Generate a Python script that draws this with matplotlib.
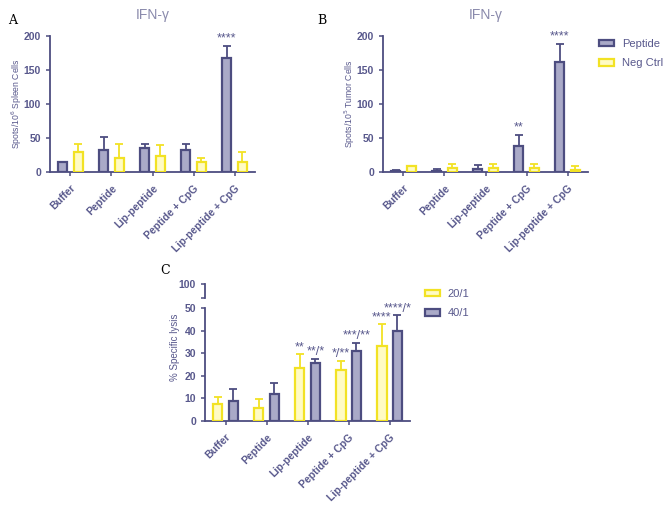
import numpy as np
import matplotlib
matplotlib.use("Agg")
import matplotlib.pyplot as plt
from matplotlib.patches import Patch

plt.rcParams['font.family'] = ['Liberation Sans', 'DejaVu Sans']

# data
groups = ["Buffer", "Peptide", "Lip-peptide", "Peptide + CpG", "Lip-peptide + CpG"]

a_pep = [15, 32, 35, 32, 167]
a_pep_err = [0, 20, 6, 9, 19]
a_neg = [30, 20, 23, 14, 14]
a_neg_err = [11, 21, 16, 6, 15]
a_stars = ["", "", "", "", "****"]

b_pep = [1, 2, 5, 38, 162]
b_pep_err = [2, 2, 5, 17, 26]
b_neg = [9, 6, 6, 6, 3]
b_neg_err = [0, 6, 6, 6, 6]
b_stars = ["", "", "", "**", "****"]

c_20 = [7.7, 5.9, 23.6, 22.7, 33.3]
c_20_err = [2.9, 3.8, 5.9, 4.0, 9.5]
c_40 = [8.8, 11.8, 25.5, 30.8, 40.0]
c_40_err = [5.4, 5.0, 2.1, 3.9, 6.9]
c_20_stars = ["", "", "**", "*/**", "****"]
c_40_stars = ["", "", "**/*", "***/**", "****/*"]

# colours
PUR_FILL = "#aaaac8"
PUR_EDGE = "#4d4d80"
YEL_FILL = "#fffbc4"
YEL_EDGE = "#f2e224"
TXT = "#58588c"
TITLE = "#8a8aac"

fig = plt.figure(figsize=(6.66, 5.05), dpi=100)
x = np.arange(len(groups))
w = 0.23
off = 0.19


def style_ax(ax):
    for s in ["top", "right"]:
        ax.spines[s].set_visible(False)
    for s in ["left", "bottom"]:
        ax.spines[s].set_color(PUR_EDGE)
        ax.spines[s].set_linewidth(1.3)
    ax.tick_params(colors=PUR_EDGE, labelcolor=TXT, width=1.1, length=3, labelsize=7.5)
    for lab in ax.get_yticklabels():
        lab.set_fontweight("bold")


def bars(ax, xs, vals, errs, fill, edge):
    ax.bar(xs, vals, width=w, color=fill, edgecolor=edge, linewidth=1.6, zorder=3)
    ax.errorbar(xs, vals, yerr=[np.zeros(len(vals)), errs], fmt="none",
                ecolor=edge, elinewidth=1.3, capsize=3, capthick=1.3, zorder=2)


def xlabels(ax):
    ax.set_xticks(x)
    ax.set_xticklabels(groups, rotation=45, ha="right", rotation_mode="anchor",
                       fontsize=7.5, fontweight="bold", color=TXT)
    ax.tick_params(axis="x", pad=5)
    ax.set_xlim(-0.5, 4.5)


def legend(ax, handles, labels, anchor):
    ax.legend(handles=handles, labels=labels, loc="upper left",
              bbox_to_anchor=anchor, bbox_transform=fig.transFigure,
              frameon=False, fontsize=8, labelcolor=TXT, handlelength=1.35,
              handleheight=0.55, handletextpad=0.7, labelspacing=0.85,
              borderaxespad=0, borderpad=0)


def ifn_panel(rect, pep, pep_err, neg, neg_err, stars, ylabel):
    ax = fig.add_axes(rect)
    bars(ax, x - off, pep, pep_err, PUR_FILL, PUR_EDGE)
    bars(ax, x + off, neg, neg_err, YEL_FILL, YEL_EDGE)
    for i in range(len(groups)):
        if stars[i]:
            ax.text(x[i] - off, pep[i] + pep_err[i] + 2, stars[i], ha="center",
                    va="bottom", fontsize=9, color=TXT)
    ax.set_ylim(0, 200)
    ax.set_yticks([0, 50, 100, 150, 200])
    xlabels(ax)
    style_ax(ax)
    ax.set_ylabel(ylabel, fontsize=6.2, color=TXT)
    ax.yaxis.set_label_coords(-0.125, 0.5)
    ax.set_title("IFN-γ", fontsize=10, color=TITLE, pad=12)
    return ax


axA = ifn_panel([0.075, 0.6594, 0.308, 0.2693], a_pep, a_pep_err, a_neg, a_neg_err,
                a_stars, "Spots/10$^6$ Spleen Cells")
axB = ifn_panel([0.575, 0.6594, 0.308, 0.2693], b_pep, b_pep_err, b_neg, b_neg_err,
                b_stars, "Spots/10$^5$ Tumor Cells")
legend(axB, [Patch(facecolor=PUR_FILL, edgecolor=PUR_EDGE, linewidth=1.6),
             Patch(facecolor=YEL_FILL, edgecolor=YEL_EDGE, linewidth=1.6)],
       ["Peptide", "Neg Ctrl"], (0.9, 0.923))

# panel C with broken axis
axC = fig.add_axes([0.3078, 0.1663, 0.308, 0.2238])
bars(axC, x - off, c_20, c_20_err, YEL_FILL, YEL_EDGE)
bars(axC, x + off, c_40, c_40_err, PUR_FILL, PUR_EDGE)
for i in range(len(groups)):
    if c_20_stars[i]:
        axC.text(x[i] - off, c_20[i] + c_20_err[i] + 0.2, c_20_stars[i], ha="center",
                 va="bottom", fontsize=9, color=TXT)
    if c_40_stars[i]:
        axC.text(x[i] + off, c_40[i] + c_40_err[i] + 0.2, c_40_stars[i], ha="center",
                 va="bottom", fontsize=9, color=TXT)
axC.set_ylim(0, 50)
axC.set_yticks([0, 10, 20, 30, 40, 50])
xlabels(axC)
style_ax(axC)
axC.set_ylabel("% Specific lysis", fontsize=7, color=TXT)
axC.yaxis.set_label_coords(-0.12, 0.65)

axC2 = fig.add_axes([0.3078, 0.4099, 0.308, 0.0277])
axC2.set_ylim(90, 100)
axC2.set_yticks([90, 100])
axC2.set_yticklabels(["", "100"])
axC2.set_xlim(-0.5, 4.5)
axC2.set_xticks([])
style_ax(axC2)
axC2.spines["bottom"].set_visible(False)
axC2.patch.set_alpha(0)

legend(axC, [Patch(facecolor=YEL_FILL, edgecolor=YEL_EDGE, linewidth=1.6),
             Patch(facecolor=PUR_FILL, edgecolor=PUR_EDGE, linewidth=1.6)],
       ["20/1", "40/1"], (0.638, 0.428))

# panel letters
fig.text(0.012, 0.972, "A", fontsize=9, family="serif", va="top")
fig.text(0.477, 0.972, "B", fontsize=9, family="serif", va="top")
fig.text(0.24, 0.478, "C", fontsize=9, family="serif", va="top")

fig.savefig("out.png", dpi=100)
